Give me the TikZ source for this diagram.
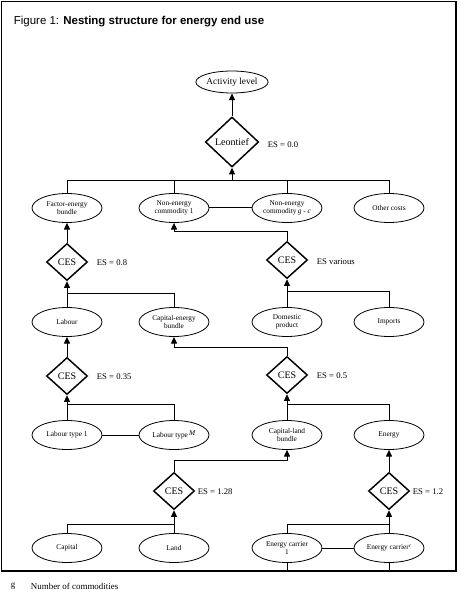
\documentclass[tikz,border=0pt]{standalone}
\usepackage{fontspec}
\setmainfont{Liberation Serif}
\newfontfamily\headfont{Liberation Sans}
\usetikzlibrary{shapes.geometric,arrows.meta}

\begin{document}
\begin{tikzpicture}
        [x=0.75pt,y=-0.75pt,line width=0.75pt,
         good/.style={draw,ellipse,line width=0.6pt,inner sep=0pt,align=center,
           minimum width=52.5pt,minimum height=21.75pt,font=\fontsize{5.5}{6.3}\selectfont},
         nest/.style={draw,diamond,line width=1.1pt,inner sep=0pt,
           minimum width=30.75pt,minimum height=27.75pt,font=\fontsize{7.5}{8}\selectfont},
         es/.style={anchor=west,font=\fontsize{6.5}{7}\selectfont},
         up/.style={-{Triangle[width=4.5pt,length=5pt]}}]
        \useasboundingbox (0,0) rectangle (460,595);
        \draw[line width=1.1pt] (1.5,1.5) rectangle (456,571);

        \node[anchor=west] (title) at (9,22)
          {\headfont\fontsize{8.6}{10}\selectfont Figure 1: \textbf{Nesting structure for energy end use}};

        % top
        \node[good,minimum height=16.5pt,font=\fontsize{7}{8}\selectfont] (act) at (232,82) {Activity level};
        \node[nest,minimum width=40pt,minimum height=37.5pt] (leon) at (232,142) {Leontief};
        \node[es] (es00) at (263,145) {ES = 0.0};
        \draw[up] (leon.north) -- (act.south);

        \node[good] (fe) at (67,208) {Factor-energy\\bundle};
        \node[good] (nec1) at (174,208) {Non-energy\\commodity 1};
        \node[good] (necg) at (287,208) {Non-energy\\commodity\,\textit{g} - \textit{c}};
        \node[good] (oth) at (389,208) {Other costs};
        \draw (nec1) -- (necg);

        \coordinate (b1) at (232,181);
        \draw[up] (b1) -- (leon.south);
        \draw (fe.north) |- (oth.north |- b1) -- (oth.north);
        \draw (nec1.north) -- (nec1.north |- b1);
        \draw (necg.north) -- (necg.north |- b1);

        % factor-energy bundle
        \node[nest] (ces1) at (67,262) {CES};
        \node[es] (es08) at (92,263) {ES = 0.8};
        \draw[up] (ces1.north) -- (fe.south);

        \node[good] (lab) at (67,322) {Labour};
        \node[good] (ceb) at (174,322) {Capital-energy\\bundle};
        \coordinate (b2) at (67,293);
        \draw[up] (b2) -- (ces1.south);
        \draw (lab.north) -- (b2) -| (ceb.north);

        % trade
        \node[nest] (cesv) at (287,260) {CES};
        \node[es] (esv) at (312,262) {ES various};
        \draw[up] (cesv.north) -- ++(0,-9) -| (nec1.south);

        \node[good] (dom) at (287,322) {Domestic\\product};
        \node[good] (imp) at (389,322) {Imports};
        \coordinate (b3) at (287,291);
        \draw[up] (b3) -- (cesv.south);
        \draw (dom.north) -- (b3) -| (imp.north);

        % labour
        \node[nest] (ces035) at (67,376) {CES};
        \node[es] (es035) at (92,377) {ES = 0.35};
        \draw[up] (ces035.north) -- (lab.south);

        \node[good] (lt1) at (67,435) {Labour type 1};
        \node[good] (ltm) at (174,435) {Labour type\,\raisebox{1pt}{\textit{M}}};
        \draw (lt1) -- (ltm);
        \coordinate (b4) at (67,404);
        \draw[up] (b4) -- (ces035.south);
        \draw (lt1.north) -- (b4) -| (ltm.north);

        % capital-energy
        \node[nest] (ces05) at (287,375) {CES};
        \node[es] (es05) at (312,376) {ES = 0.5};
        \draw[up] (ces05.north) -- ++(0,-8) -| (ceb.south);

        \node[good] (cl) at (287,435) {Capital-land\\bundle};
        \node[good] (en) at (389,435) {Energy};
        \coordinate (b5) at (287,404);
        \draw[up] (b5) -- (ces05.south);
        \draw (cl.north) -- (b5) -| (en.north);

        % capital-land
        \node[nest] (ces128) at (174,491) {CES};
        \node[es] (es128) at (193,492) {ES = 1.28};
        \draw[up] (ces128.north) -- ++(0,-11) -| (cl.south);

        \node[good] (cap) at (67,548) {Capital};
        \node[good] (land) at (174,548) {Land};
        \coordinate (b6) at (174,524);
        \draw[up] (b6) -- (ces128.south);
        \draw (cap.north) |- (b6) -- (land.north);

        % energy
        \node[nest] (ces12) at (389,491) {CES};
        \node[es] (es12) at (408,492) {ES = 1.2};
        \draw[up] (ces12.north) -- (en.south);

        \node[good] (ec1) at (287,548) {Energy carrier\\1};
        \node[good] (ecc) at (389,548) {Energy carrier\raisebox{1.5pt}{\fontsize{4}{4}\selectfont\textit{c}}};
        \draw (ec1) -- (ecc);
        \coordinate (b7) at (389,524);
        \draw[up] (b7) -- (ces12.south);
        \draw (ec1.north) |- (b7) -- (ecc.north);
        \draw[line width=0.4pt] (ec1.south) -- (287,571);
        \draw[line width=0.4pt] (ecc.south) -- (389,571);

        % key
        \node[anchor=west,font=\fontsize{6.7}{8}\selectfont] (gsym) at (6,586) {g};
        \node[anchor=west,font=\fontsize{6.7}{8}\selectfont] (gtxt) at (26,586) {Number of commodities};
      \end{tikzpicture}
\end{document}
